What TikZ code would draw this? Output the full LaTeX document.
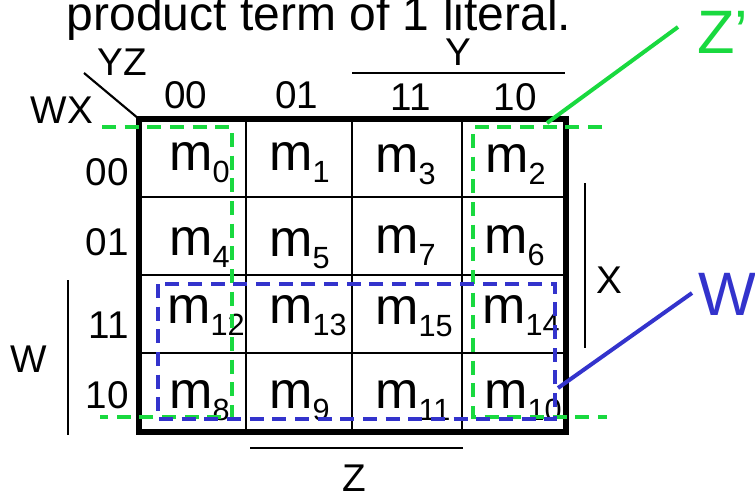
\documentclass[tikz,border=0pt]{standalone}
\usepackage{fontspec}
\setmainfont{Liberation Sans}
\definecolor{zgreen}{HTML}{19D93F}
\definecolor{wblue}{HTML}{3333CC}
\newcommand{\fsz}[1]{\fontsize{#1}{#1}\selectfont}
\newcommand{\mterm}[1]{{\fsz{39}m}\raisebox{-9pt}{\fsz{23}#1}}
\begin{document}
\begin{tikzpicture}[x=0.75pt,y=-0.75pt,
  lbl/.style={inner sep=0pt,font=\fsz{29}},
  cell/.style={inner sep=0pt,anchor=base west},
  big/.style={inner sep=0pt,font=\fsz{46}},
  thin/.style={line width=1.6pt},
  inner/.style={line width=2pt},
  outer/.style={line width=3.8pt},
  gdash/.style={zgreen,line width=3pt,dash pattern=on 10.5pt off 6.5pt},
  bdash/.style={wblue,line width=3pt,dash pattern=on 10.5pt off 6.5pt},
  lead/.style={line width=3pt}]
\useasboundingbox (0,0) rectangle (755,493);
% title
\node[inner sep=0pt,anchor=base,font=\fsz{36}] (title) at (319,30) {product term of 1 literal.};
% grid
\coordinate (g00) at (139,119);
\coordinate (g11) at (566,432);
\draw[inner] (246,119) -- (246,432) (352,119) -- (352,432) (462,119) -- (462,432);
\draw[inner] (139,197) -- (566,197) (139,275) -- (566,275) (139,353) -- (566,353);
\draw[outer] (g00) rectangle (g11);
% diagonal
\coordinate (d1) at (84,73);
\draw[thin] (d1) -- (g00);
\node[lbl,anchor=base] (yz) at (122,75) {YZ};
\node[lbl,anchor=base] (wx) at (62,123) {WX};
% column labels
\node[lbl,anchor=base] (c0) at (186,108) {00};
\node[lbl,anchor=base] (c1) at (297,108) {01};
\node[lbl,anchor=base] (c2) at (411,110) {11};
\node[lbl,anchor=base] (c3) at (515,110) {10};
% row labels
\node[lbl,anchor=base east] (r0) at (129,185) {00};
\node[lbl,anchor=base east] (r1) at (129,255) {01};
\node[lbl,anchor=base east] (r2) at (129,338) {11};
\node[lbl,anchor=base east] (r3) at (129,408) {10};
% Y bar
\coordinate (ya) at (352,73); \coordinate (yb) at (565,73);
\draw[thin] (ya) -- (yb);
\node[lbl,anchor=base] (ylab) at (458,65) {Y};
% X bar
\coordinate (xa) at (585,183); \coordinate (xb) at (585,348);
\draw[thin] (xa) -- (xb);
\node[lbl,anchor=base] (xlab) at (609,293) {X};
% W bar
\coordinate (wa) at (68,280); \coordinate (wb) at (68,435);
\draw[thin] (wa) -- (wb);
\node[lbl,anchor=base] (wlab) at (29,372) {W};
% Z bar
\coordinate (za) at (250,448); \coordinate (zb) at (463,448);
\draw[thin] (za) -- (zb);
\node[lbl,anchor=base] (zlab) at (354,491) {Z};
% cells
\node[cell] (m0) at (169,170) {\mterm{0}};
\node[cell] (m1) at (269,170) {\mterm{1}};
\node[cell] (m3) at (375,172) {\mterm{3}};
\node[cell] (m2) at (485,172) {\mterm{2}};
\node[cell] (m4) at (169,255) {\mterm{4}};
\node[cell] (m5) at (269,256) {\mterm{5}};
\node[cell] (m7) at (375,253) {\mterm{7}};
\node[cell] (m6) at (484,253) {\mterm{6}};
\node[cell] (m12) at (167,323) {\mterm{12}};
\node[cell] (m13) at (269,323) {\mterm{13}};
\node[cell] (m15) at (375,324) {\mterm{15}};
\node[cell] (m14) at (482,323) {\mterm{14}};
\node[cell] (m8) at (169,408) {\mterm{8}};
\node[cell] (m9) at (269,408) {\mterm{9}};
\node[cell] (m11) at (375,408) {\mterm{11}};
\node[cell] (m10) at (484,408) {\mterm{10}};
% green groups (Z')
\draw[gdash] (102,127) -- (232,127) -- (232,417) -- (100,417);
\draw[gdash] (602,127) -- (473,127) -- (473,417) -- (607,417);
% blue group (W)
\draw[bdash] (158,284) rectangle (555,419);
% callouts
\node[big,text=zgreen,anchor=base west] (zp) at (697,53) {Z’};
\coordinate (zpend) at (547,123);
\coordinate (zpstart) at (678,27);
\draw[lead,zgreen] (zpstart) -- (zpend);
\node[big,text=wblue,anchor=base west] (wg) at (698,315) {W};
\coordinate (wgstart) at (692,293);
\coordinate (wgend) at (558,388);
\draw[lead,wblue] (wgstart) -- (wgend);
\end{tikzpicture}
\end{document}
